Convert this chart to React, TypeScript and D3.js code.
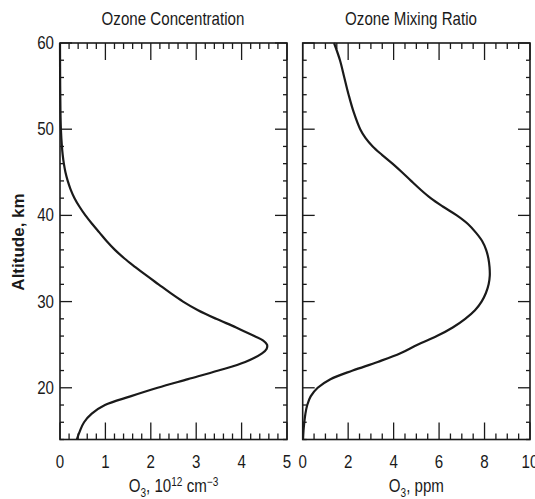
import React, { useEffect, useRef } from 'react';
import * as d3 from 'd3';

// altitude grid (km) and the two profiles
const concAlt = [14, 15, 16, 17, 18, 19, 20, 21, 22, 23, 24, 24.5, 25, 25.5, 26, 27, 28, 29, 30, 31, 32, 33, 34, 35, 36, 37, 38, 39, 40, 41, 42, 43, 44, 45, 46, 47, 48, 50, 52, 55, 60];
const concVal = [0.37, 0.44, 0.53, 0.70, 0.99, 1.55, 2.15, 2.82, 3.49, 4.08, 4.45, 4.55, 4.56, 4.47, 4.28, 3.88, 3.44, 3.04, 2.71, 2.43, 2.17, 1.91, 1.66, 1.42, 1.21, 1.03, 0.87, 0.71, 0.56, 0.43, 0.32, 0.235, 0.17, 0.12, 0.085, 0.06, 0.042, 0.02, 0.01, 0.004, 0];

const mixAlt = [14, 15, 16, 17, 18, 19, 20, 21, 22, 23, 24, 25, 26, 27, 28, 29, 30, 31, 32, 33, 34, 35, 36, 37, 38, 39, 40, 41, 42, 43, 44, 45, 46, 47, 48, 49, 50, 52, 54, 56, 58, 60];
const mixVal = [0.015, 0.035, 0.07, 0.12, 0.2, 0.35, 0.66, 1.22, 2.2, 3.3, 4.3, 5.05, 5.9, 6.6, 7.15, 7.58, 7.87, 8.06, 8.18, 8.23, 8.22, 8.17, 8.07, 7.9, 7.62, 7.27, 6.78, 6.18, 5.63, 5.18, 4.77, 4.37, 3.95, 3.5, 3.08, 2.76, 2.53, 2.24, 2.02, 1.83, 1.64, 1.38];

const altTicks = [20, 30, 40, 50, 60];
const concTicks = [0, 1, 2, 3, 4, 5];
const mixTicks = [0, 2, 4, 6, 8, 10];

const FONT = "'Liberation Sans', Arial, sans-serif";
const INK = '#1a1a1a';
const SQUEEZE = 0.84; // the original lettering is a condensed sans

const App = () => {
  const svgRef = useRef(null);
  const width = 535, height = 499;

  useEffect(() => {
    const svg = d3.select(svgRef.current);
    svg.selectAll('*').remove();

    // condensed text: a group at the anchor point, squeezed horizontally
    const label = (parent, x, y, anchor, size) =>
      parent.append('g')
        .attr('transform', `translate(${x},${y}) scale(${SQUEEZE},1)`)
        .append('text')
        .attr('text-anchor', anchor)
        .attr('font-family', FONT)
        .attr('font-size', size)
        .attr('fill', INK);

    const y = d3.scaleLinear().domain([14, 60]).range([439.5, 43]);

    const panels = [
      {
        x: d3.scaleLinear().domain([0, 5]).range([60, 287]),
        alt: concAlt, val: concVal, ticks: concTicks, minor: 0.2,
        title: 'Ozone Concentration', titleX: 173, yLabels: true, unit: 'conc',
      },
      {
        x: d3.scaleLinear().domain([0, 10]).range([302.7, 530]),
        alt: mixAlt, val: mixVal, ticks: mixTicks, minor: 0.5,
        title: 'Ozone Mixing Ratio', titleX: 411, yLabels: false, unit: 'ppm',
      },
    ];

    panels.forEach(p => {
      const g = svg.append('g');
      const [x0, x1] = p.x.range();
      const [yb, yt] = y.range();

      // frame
      g.append('rect')
        .attr('x', x0).attr('y', yt)
        .attr('width', x1 - x0).attr('height', yb - yt)
        .attr('fill', 'none').attr('stroke', INK).attr('stroke-width', 1.6);

      // x ticks, top and bottom, pointing in
      const [dMin, dMax] = p.x.domain();
      d3.range(dMin, dMax + 1e-9, p.minor).forEach(v => {
        const major = p.ticks.some(t => Math.abs(t - v) < 1e-6);
        const len = major ? 17 : 6;
        [[yb, -1], [yt, 1]].forEach(([yy, dir]) => {
          g.append('line')
            .attr('x1', p.x(v)).attr('x2', p.x(v))
            .attr('y1', yy).attr('y2', yy + dir * len)
            .attr('stroke', INK).attr('stroke-width', 1.3);
        });
      });

      // y ticks, left and right, pointing in
      d3.range(14, 60.001, 2).forEach(a => {
        const major = a % 10 === 0;
        const len = major ? 12 : 4;
        [[x0, 1], [x1, -1]].forEach(([xx, dir]) => {
          g.append('line')
            .attr('x1', xx).attr('x2', xx + dir * len)
            .attr('y1', y(a)).attr('y2', y(a))
            .attr('stroke', INK).attr('stroke-width', 1.3);
        });
      });

      // x tick labels
      p.ticks.forEach(d => {
        label(g, p.x(d), 468, 'middle', 18).text(d);
      });

      if (p.yLabels) {
        altTicks.forEach(d => {
          label(g, x0 - 6, y(d) + 6, 'end', 18).text(d);
        });
      }

      // title
      label(g, p.titleX, 25, 'middle', 18).text(p.title);

      // x axis label
      const lab = label(g, (x0 + x1) / 2, 492, 'middle', 18);
      lab.append('tspan').text('O');
      lab.append('tspan').attr('dy', 5).attr('font-size', 12).text('3');
      if (p.unit === 'conc') {
        lab.append('tspan').attr('dy', -5).text(', 10');
        lab.append('tspan').attr('dy', -6).attr('font-size', 12).text('12');
        lab.append('tspan').attr('dy', 6).text(' cm');
        lab.append('tspan').attr('dy', -6).attr('font-size', 12).text('−3');
      } else {
        lab.append('tspan').attr('dy', -5).text(', ppm');
      }

      // profile curve
      const pts = p.alt.map((a, i) => [p.val[i], a]);
      const line = d3.line()
        .x(d => p.x(d[0]))
        .y(d => y(d[1]))
        .curve(d3.curveCatmullRom.alpha(0.5));
      g.append('path')
        .datum(pts)
        .attr('d', line)
        .attr('fill', 'none')
        .attr('stroke', INK)
        .attr('stroke-width', 2.2)
        .attr('stroke-linejoin', 'round');
    });

    // shared y axis label
    svg.append('text')
      .attr('transform', 'translate(24,242) rotate(-90)')
      .attr('text-anchor', 'middle')
      .attr('font-family', FONT)
      .attr('font-weight', 'bold')
      .attr('font-size', 17)
      .attr('fill', INK)
      .text('Altitude, km');
  }, []);

  return (
    <svg ref={svgRef} width={width} height={height}
      style={{ position: 'absolute', left: 0, top: 0, background: '#fff' }}></svg>
  );
};

export default App;
